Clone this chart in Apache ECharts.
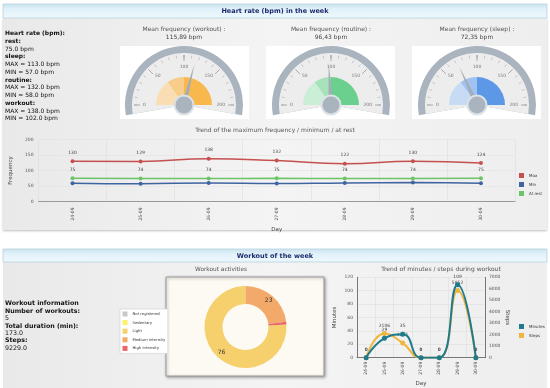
<!DOCTYPE html>
<html><head><meta charset="utf-8">
<script src="https://cdn.jsdelivr.net/npm/echarts@6/dist/echarts.min.js"></script>
<style>html,body{margin:0;padding:0;background:#fff}#c{width:550px;height:388px}</style>
</head><body><div id="c"></div>
<script>
// ---------- data ----------
const days = ['24-09','25-09','26-09','27-09','28-09','29-09','30-09'];
const maxHR = [130,129,138,132,122,130,124];
const minHR = [59,57,60,58,60,61,59];
const restHR = [75,74,74,75,74,74,75];
const gaugeNames = ['workout','routine','sleep'];
const gaugeValues = [115.89, 96.43, 72.35];
const gaugeLabels = ['115,89 bpm','96,43 bpm','72,35 bpm'];
const gaugeBands = [0.3, 0.5, 1]; // band boundaries as fraction of 0-200
const activityNames = ['Not registered','Sedentary','Light','Medium intensity','High intensity'];
const activityValues = [0,0,76,23,1];
const workoutMinutes = [0,29,35,0,0,109,0];
const workoutSteps = [0,2106,1271,0,0,5852,0];
const hrSummary = [
  ['Heart rate (bpm):',true],['rest:',true],['75.0 bpm',false],['sleep:',true],
  ['MAX = 113.0 bpm',false],['MIN = 57.0 bpm',false],['routine:',true],
  ['MAX = 132.0 bpm',false],['MIN = 58.0 bpm',false],['workout:',true],
  ['MAX = 138.0 bpm',false],['MIN = 102.0 bpm',false]];
const workoutSummary = [
  ['Workout information',true],['Number of workouts:',true],['5',false],
  ['Total duration (min):',true],['173.0',false],['Steps:',true],['9229.0',false]];

// ---------- styles ----------
const FF = 'DejaVu Sans';
const gaugeCenters = [[184,105],[331,105],[477,105]];
const gaugeBoxes = [120,266,412];
const gaugePalettes = [
  ['#f9deb4','#f8cd8a','#f8b84e'],
  ['#cbeed6','#a8e2bb','#6bd08d'],
  ['#c7dbf5','#a0c2f0','#5c98e6']];
const actColors = ['#c8c8c8','#f9f26a','#f5d06c','#f3a96a','#e8676b'];

const graphic = [];
function rect(x,y,w,h,fill,extra){graphic.push({type:'rect',shape:{x,y,width:w,height:h},style:Object.assign({fill},extra||{}),silent:true});}
function txt(x,y,t,size,bold,color,align){graphic.push({type:'text',x,y,silent:true,style:{text:t,fontFamily:FF,fontSize:size,fontWeight:bold?'bold':'normal',fill:color||'#222',align:align||'left',verticalAlign:'middle'}});}
const panelGrad = {type:'linear',x:0,y:0,x2:1,y2:0,colorStops:[{offset:0,color:'#e9e9e9'},{offset:0.5,color:'#f4f4f4'},{offset:1,color:'#eeeeee'}]};
const headGrad = {type:'linear',x:0,y:0,x2:0,y2:1,colorStops:[{offset:0,color:'#c9e2ee'},{offset:0.4,color:'#e2f2fa'},{offset:1,color:'#eef8fc'}]};
// panel 1
rect(3,18,544,212,panelGrad,{shadowBlur:2,shadowColor:'rgba(0,0,0,0.25)',shadowOffsetY:1});
rect(3,4,544,14,headGrad,{stroke:'#b5d2de',lineWidth:0.8});
txt(275,11.5,'Heart rate (bpm) in the week',6.5,true,'#1d2a6e','center');
// panel 2
rect(3,262,544,130,panelGrad);
rect(3,249,544,13,headGrad,{stroke:'#b5d2de',lineWidth:0.8});
txt(275,256,'Workout of the week',6.5,true,'#1d2a6e','center');
hrSummary.forEach((l,i)=>txt(5,33.5+i*7.75,l[0],6,l[1],'#111'));
workoutSummary.forEach((l,i)=>txt(5,303.7+i*7.4,l[0],6.3,l[1],'#111'));
// gauge boxes & titles
gaugeBoxes.forEach((x,i)=>{
  rect(x,46,129,73,'#ffffff');
  txt(gaugeCenters[i][0],29,'Mean frequency ('+gaugeNames[i]+') :',6,false,'#555','center');
  txt(gaugeCenters[i][0],37.5,gaugeLabels[i],6,false,'#444','center');
});
// pie box
rect(166,277,158,99,'#fcfaf2',{stroke:'#9a9a9a',lineWidth:1,shadowBlur:3,shadowColor:'rgba(0,0,0,0.35)',shadowOffsetX:1,shadowOffsetY:1});

const hide = {axisTick:{show:false},splitLine:{show:false},axisLabel:{show:false},pointer:{show:false},anchor:{show:false},title:{show:false},detail:{show:false}};
const series = [];
gaugeValues.forEach((v,i)=>{
  const c = gaugeCenters[i], p = gaugePalettes[i];
  series.push(Object.assign({type:'gauge',center:c,radius:59,startAngle:190,endAngle:-10,silent:true,z:1,
    axisLine:{lineStyle:{width:59,color:[[1,'#aab4bf']]}}},hide,{data:[{value:0}]}));
  series.push(Object.assign({type:'gauge',center:c,radius:52,startAngle:190,endAngle:-10,silent:true,z:2,
    axisLine:{lineStyle:{width:52,color:[[1,'#ededed']]}}},hide,{data:[{value:0}]}));
  series.push(Object.assign({type:'gauge',center:c,radius:28,startAngle:180,endAngle:0,silent:true,z:3,
    axisLine:{lineStyle:{width:19,color:gaugeBands.map((b,k)=>[b,p[k]])}}},hide,{data:[{value:0}]}));
  series.push({type:'gauge',center:c,radius:51,startAngle:180,endAngle:0,min:0,max:200,splitNumber:4,z:4,silent:true,
    axisLine:{show:false,lineStyle:{width:0}},
    splitLine:{show:true,distance:1,length:6,lineStyle:{color:'#999',width:0.8}},
    axisTick:{show:true,distance:1,length:3,splitNumber:5,lineStyle:{color:'#aaa',width:0.6}},
    axisLabel:{show:true,distance:3,fontSize:4.5,color:'#777',fontFamily:FF},
    pointer:{show:true,length:42,width:2.5,itemStyle:{color:'#a3adb8'}},
    anchor:{show:true,size:19,showAbove:true,itemStyle:{color:'#aab4bf',borderColor:'#dde2e7',borderWidth:2}},
    title:{show:false},detail:{show:false},data:[{value:v}]});
});

series.push({name:'Max',type:'line',xAxisIndex:0,yAxisIndex:0,data:maxHR,smooth:true,symbol:'circle',symbolSize:4,
  lineStyle:{width:1.5,color:'#c4504f'},itemStyle:{color:'#c4504f'},label:{show:true,position:'top',fontSize:4.5,color:'#444',distance:4,fontFamily:FF}});
series.push({name:'Min',type:'line',xAxisIndex:0,yAxisIndex:0,data:minHR,smooth:true,symbol:'circle',symbolSize:4,
  lineStyle:{width:1.5,color:'#3f64a0'},itemStyle:{color:'#3f64a0'}});
series.push({name:'At rest',type:'line',xAxisIndex:0,yAxisIndex:0,data:restHR,smooth:true,symbol:'circle',symbolSize:4,
  lineStyle:{width:1.5,color:'#6cc467'},itemStyle:{color:'#6cc467'},label:{show:true,position:'top',fontSize:4.5,color:'#444',distance:4,fontFamily:FF}});

series.push({type:'pie',center:[245.5,327],radius:[23,41],startAngle:3.6,clockwise:true,silent:true,
  data:activityNames.map((n,k)=>({name:n,value:activityValues[k],itemStyle:{color:actColors[k]}})),
  label:{show:true,position:'inside',fontSize:6,color:'#333',fontFamily:FF,formatter:p=>p.value>=5?String(p.value):''},
  labelLine:{show:false}});

series.push({name:'Minutes',type:'line',xAxisIndex:1,yAxisIndex:1,data:workoutMinutes,smooth:true,symbol:'circle',symbolSize:5,
  lineStyle:{width:2,color:'#1f7b8b'},itemStyle:{color:'#1f7b8b'},label:{show:true,position:'top',fontSize:4.5,color:'#444',distance:3,fontFamily:FF,formatter:p=>String(p.value)},z:3});
series.push({name:'Steps',type:'line',xAxisIndex:1,yAxisIndex:2,data:workoutSteps,smooth:true,symbol:'circle',symbolSize:5,
  lineStyle:{width:2,color:'#f0b53c'},itemStyle:{color:'#f0b53c'},label:{show:true,position:'top',fontSize:4.5,color:'#444',distance:3,fontFamily:FF,formatter:p=>String(p.value)},z:2,
  labelLayout:{hideOverlap:true}});

const axLab = {fontSize:4.5,color:'#555',fontFamily:FF};
const plain = v=>String(v);
const option = {
  animation:false,
  textStyle:{fontFamily:FF},
  graphic:graphic,
  title:[
    {text:'Trend of the maximum frequency / minimum / at rest',left:'center',top:127,textStyle:{fontSize:6,fontWeight:'normal',color:'#555',fontFamily:FF},padding:0},
    {text:'Workout activities',left:221,top:266,textAlign:'center',textStyle:{fontSize:5.8,fontWeight:'normal',color:'#555',fontFamily:FF},padding:0},
    {text:'Trend of minutes / steps during workout',left:441,top:266,textAlign:'center',textStyle:{fontSize:6,fontWeight:'normal',color:'#555',fontFamily:FF},padding:0}
  ],
  legend:[
    {data:['Max','Min','At rest'],orient:'vertical',left:517,top:171,itemWidth:5,itemHeight:5,itemGap:4,icon:'rect',padding:2,
      textStyle:{fontSize:4,color:'#333',fontFamily:FF}},
    {data:activityNames,orient:'vertical',left:120,top:309,itemWidth:5,itemHeight:5,itemGap:3.6,icon:'rect',padding:2.5,
      textStyle:{fontSize:3.8,color:'#333',fontFamily:FF},borderColor:'#ccc',borderWidth:0.6,backgroundColor:'#fff'},
    {data:['Minutes','Steps'],orient:'vertical',left:517,top:322,itemWidth:5,itemHeight:5,itemGap:4,icon:'rect',padding:2,
      textStyle:{fontSize:4,color:'#333',fontFamily:FF}}
  ],
  grid:[
    {left:27,right:35,top:139.5,bottom:186.5,show:true,backgroundColor:'#fff',borderColor:'#999',borderWidth:1,shadowBlur:2,shadowColor:'rgba(0,0,0,0.2)',containLabel:false},
    {left:357,right:65,top:277.3,bottom:30.3,show:true,backgroundColor:'rgba(255,255,255,0.6)',borderWidth:0,containLabel:false}
  ],
  xAxis:[
    {type:'category',gridIndex:0,data:days,boundaryGap:true,axisTick:{show:false},axisLine:{lineStyle:{color:'#999'}},
      splitLine:{show:true,lineStyle:{color:'#ddd',width:0.6}},axisLabel:Object.assign({rotate:90,margin:6},axLab),
      name:'Day',nameLocation:'middle',nameGap:25.5,nameTextStyle:{fontSize:5.5,color:'#444',fontFamily:FF}},
    {type:'category',gridIndex:1,data:days,boundaryGap:true,axisTick:{show:false},axisLine:{lineStyle:{color:'#777'}},
      splitLine:{show:true,lineStyle:{color:'#ddd',width:0.6}},axisLabel:Object.assign({rotate:90,margin:4},axLab),
      name:'Day',nameLocation:'middle',nameGap:23,nameTextStyle:{fontSize:5.5,color:'#444',fontFamily:FF}}
  ],
  yAxis:[
    {type:'value',gridIndex:0,min:0,max:200,interval:50,axisLine:{show:false},axisTick:{show:false},
      splitLine:{lineStyle:{color:'#e2e2e2',width:0.6}},axisLabel:Object.assign({margin:5,formatter:plain},axLab),
      name:'Frequency',nameLocation:'middle',nameGap:17,nameTextStyle:{fontSize:5.5,color:'#444',fontFamily:FF}},
    {type:'value',gridIndex:1,min:0,max:120,interval:20,axisLine:{show:true,lineStyle:{color:'#777'}},axisTick:{show:false},
      splitLine:{lineStyle:{color:'#ddd',width:0.6}},axisLabel:Object.assign({margin:4,formatter:plain},axLab),
      name:'Minutes',nameLocation:'middle',nameGap:19,nameTextStyle:{fontSize:5.5,color:'#444',fontFamily:FF}},
    {type:'value',gridIndex:1,min:0,max:7000,interval:1000,position:'right',axisLine:{show:true,lineStyle:{color:'#777'}},axisTick:{show:false},
      splitLine:{show:false},axisLabel:Object.assign({margin:4,formatter:plain},axLab),
      name:'Steps',nameLocation:'middle',nameGap:19,nameRotate:-90,nameTextStyle:{fontSize:5.5,color:'#444',fontFamily:FF}}
  ],
  series:series
};
const chart = echarts.init(document.getElementById('c'),null,{renderer:'canvas'});
chart.setOption(option);
</script></body></html>
